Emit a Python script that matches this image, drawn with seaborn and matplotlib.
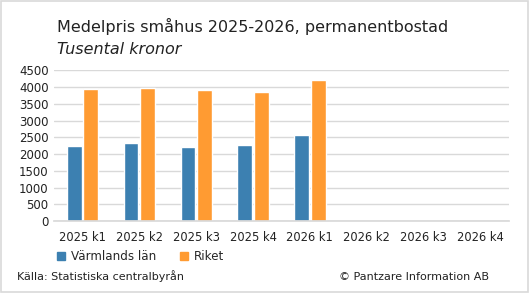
import matplotlib
matplotlib.use("Agg")
import matplotlib.pyplot as plt
from matplotlib.patches import Rectangle
import seaborn as sns
import pandas as pd
import numpy as np

# data
kvartal = ["2025 k1", "2025 k2", "2025 k3", "2025 k4", "2026 k1", "2026 k2", "2026 k3", "2026 k4"]
varmland = [2240, 2330, 2210, 2270, 2570, np.nan, np.nan, np.nan]
riket = [3945, 3975, 3915, 3855, 4215, np.nan, np.nan, np.nan]
serier = ["Värmlands län", "Riket"]
farger = ["#3c80b1", "#ff9b32"]

df = pd.DataFrame({
    "kvartal": kvartal * 2,
    "serie": [serier[0]] * len(kvartal) + [serier[1]] * len(kvartal),
    "varde": varmland + riket,
})

sns.set_theme(style="white")
plt.rcParams["font.family"] = ["DejaVu Sans"]

fig = plt.figure(figsize=(5.3, 2.93), dpi=100)
ax = fig.add_axes([0.102, 0.245, 0.858, 0.515])

sns.barplot(data=df, x="kvartal", y="varde", hue="serie", order=kvartal,
            hue_order=serier, palette=farger, width=0.58, gap=0.1,
            saturation=1, ax=ax, legend=False)

ax.set_ylim(0, 4500)
ax.set_yticks(range(0, 4501, 500))
ax.set_xlim(-0.5, len(kvartal) - 0.5)
ax.yaxis.grid(True, color="#d9d9d9", linewidth=1)
ax.set_axisbelow(True)
for s in ["left", "top", "right"]:
    ax.spines[s].set_visible(False)
ax.spines["bottom"].set_color("#d9d9d9")
ax.set_xlabel("")
ax.set_ylabel("")
ax.tick_params(axis="y", length=0, labelsize=8.5, pad=4, colors="#222222")
ax.tick_params(axis="x", which="major", length=0, labelsize=8.3, pad=7, colors="#222222")
ax.set_xticks(np.arange(-0.5, len(kvartal)), minor=True)
ax.tick_params(axis="x", which="minor", length=4, color="#d9d9d9", width=1)

fig.text(0.108, 0.89, "Medelpris småhus 2025-2026, permanentbostad", fontsize=11.5, color="#222222")
fig.text(0.108, 0.815, "Tusental kronor", fontsize=11.5, style="italic", color="#222222")

handles = [Rectangle((0, 0), 1, 1, color=c) for c in farger]
fig.legend(handles, serier, loc="center left", bbox_to_anchor=(0.088, 0.125),
           ncol=2, frameon=False, fontsize=8.6, handlelength=0.65, handleheight=0.65,
           handletextpad=0.5, columnspacing=2.0)

fig.text(0.032, 0.045, "Källa: Statistiska centralbyrån", fontsize=8, color="#222222")
fig.text(0.923, 0.045, "© Pantzare Information AB", fontsize=8, color="#222222", ha="right")

fig.patches.append(Rectangle((0.002, 0.003), 0.995, 0.993, transform=fig.transFigure,
                             fill=False, edgecolor="#d9d9d9", linewidth=1.2))

fig.savefig("out.png", dpi=100)
